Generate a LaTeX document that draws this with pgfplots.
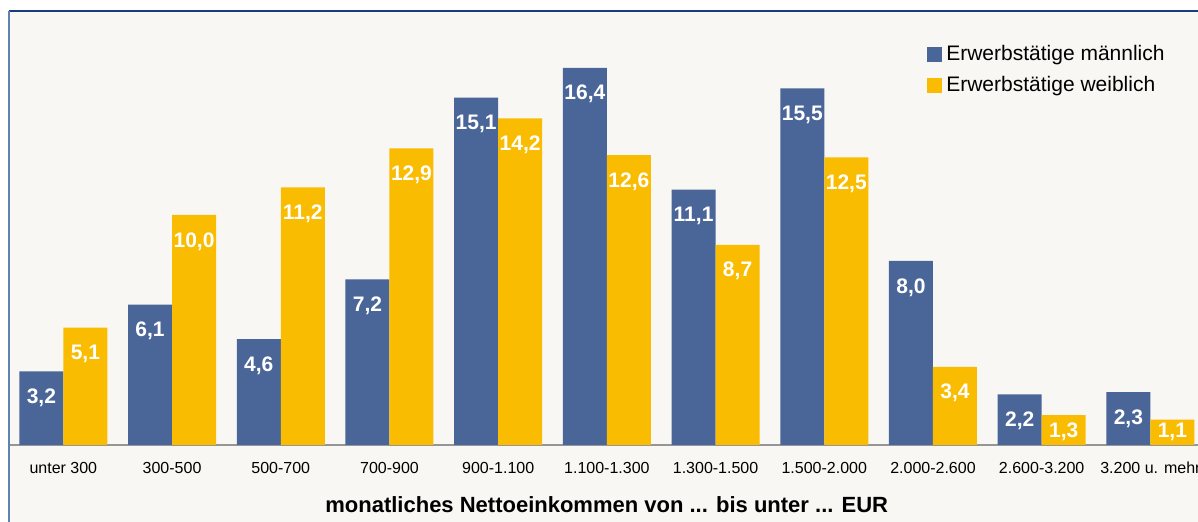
\documentclass[border=0pt]{standalone}
\usepackage{pgfplots}
\pgfplotsset{compat=1.18}
\usepackage{fontspec}
\setmainfont{Liberation Sans}

\definecolor{maleblue}{RGB}{74,102,153}
\definecolor{femyellow}{RGB}{250,188,0}
\definecolor{chartbg}{RGB}{248,247,243}
\definecolor{frametop}{RGB}{25,60,125}
\definecolor{frameleft}{RGB}{95,130,180}
\definecolor{basegray}{RGB}{150,150,150}

\begin{document}
\begin{tikzpicture}
% chart area background
\fill[chartbg] (0,-38.5pt) rectangle (594.5pt,217pt);
\begin{axis}[
  at={(0,0)}, anchor=south west,
  scale only axis, width=594.5pt, height=217pt,
  xmin=-0.5, xmax=10.438, ymin=0, ymax=18.87,
  enlargelimits=false,
  clip=false,
  axis x line=bottom, axis y line=none,
  x axis line style={-, draw=basegray, line width=1pt},
  xtick={0,...,10},
  xticklabels={unter 300,300-500,500-700,700-900,900-1.100,1.100-1.300,
    1.300-1.500,1.500-2.000,2.000-2.600,2.600-3.200,3.200 u. mehr},
  xtick style={draw=none},
  xticklabel style={font=\fontsize{8}{9.6}\selectfont, anchor=north,
    inner sep=0pt, yshift=-4pt},
  xlabel={monatliches Nettoeinkommen von ... bis unter ... EUR},
  xlabel style={font=\bfseries\fontsize{11}{13}\selectfont,
    at={(axis description cs:0.5027,0)}, anchor=center, yshift=-30pt},
  ybar=0pt, bar width=22pt,
  visualization depends on={rawy \as \rawy},
  nodes near coords={\pgfmathprintnumber[fixed,fixed zerofill,precision=1,use comma,assume math mode=true]{\pgfplotspointmeta}},
  nodes near coords align={below},
  every node near coord/.append style={font=\bfseries\fontsize{10.5}{12}\selectfont,
    text=white, inner sep=0pt, yshift={-1pt*min(8.5,\rawy*11.5-11.3)}},
  legend cell align=left,
  legend style={at={(0.772,0.931)}, anchor=north west, draw=none, fill=none,
    font=\fontsize{10.5}{12.6}\selectfont, inner sep=0pt, /tikz/row sep=2.5pt},
  legend image code/.code={\fill[#1] (0pt,-3.75pt) rectangle (7.5pt,3.75pt);},
]
% Erwerbstaetige maennlich
\addplot[fill=maleblue, draw=none] coordinates {
  (0,3.2) (1,6.1) (2,4.6) (3,7.2) (4,15.1) (5,16.4)
  (6,11.1) (7,15.5) (8,8.0) (9,2.2) (10,2.3)
};
\addlegendentry{Erwerbstätige männlich}
% Erwerbstaetige weiblich
\addplot[fill=femyellow, draw=none] coordinates {
  (0,5.1) (1,10.0) (2,11.2) (3,12.9) (4,14.2) (5,12.6)
  (6,8.7) (7,12.5) (8,3.4) (9,1.3) (10,1.1)
};
\addlegendentry{Erwerbstätige weiblich}
\end{axis}
% frame lines
\draw[frametop, line width=0.6pt] (0,217pt) -- (594.5pt,217pt);
\draw[frameleft, line width=1pt] (0,-38.5pt) -- (0,217pt);
\pgfresetboundingbox
\useasboundingbox (-4.5pt,-38.5pt) rectangle (594.5pt,222.5pt);
\end{tikzpicture}
\end{document}
